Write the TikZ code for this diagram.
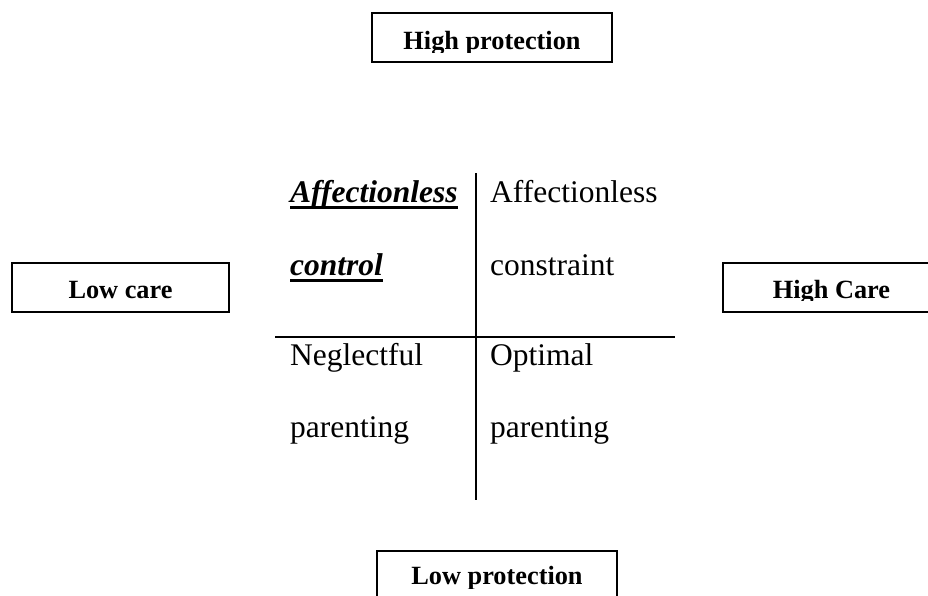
\documentclass[tikz,border=0pt]{standalone}
\usepackage{fontspec}
\setmainfont{Liberation Serif}
\begin{document}
\begin{tikzpicture}[x=1pt,y=-1pt,
  lbl/.style={font=\fontsize{26.3}{30}\selectfont\bfseries, inner sep=0pt, anchor=base},
  cell/.style={font=\fontsize{31.5}{36}\selectfont, inner sep=0pt, anchor=base west},
  cellbi/.style={font=\fontsize{31.5}{36}\selectfont\bfseries\itshape, inner sep=0pt, anchor=base west},
  boxline/.style={draw, line width=1.3pt, inner sep=0pt},
  axis/.style={line width=2pt},
  ul/.style={line width=3pt}]
\clip (0,0) rectangle (928,595);
\fill[white] (0,0) rectangle (928,595);
% boxes
\node[boxline, minimum width=240pt, minimum height=49pt] (hpbox) at (492,37.5) {};
\node[boxline, minimum width=217pt, minimum height=49pt] (lcbox) at (120.5,287.5) {};
\node[boxline, minimum width=217pt, minimum height=49pt] (hcbox) at (831.5,287.5) {};
\node[boxline, minimum width=240pt, minimum height=60pt] (lpbox) at (497,581) {};
% box texts (clipped like the original)
\begin{scope}
\clip (372,13) rectangle (612,52.5);
\node[lbl] (hp) at (492,49) {High protection};
\end{scope}
\begin{scope}
\clip (12,263) rectangle (229,301);
\node[lbl] (lc) at (120.5,298) {Low care};
\end{scope}
\begin{scope}
\clip (723,263) rectangle (940,300.5);
\node[lbl] (hc) at (831.5,298) {High Care};
\end{scope}
\begin{scope}
\clip (377,551) rectangle (617,588);
\node[lbl] (lp) at (497,584.5) {Low protection};
\end{scope}
% axes
\coordinate (vt) at (476,173);
\coordinate (vb) at (476,500);
\coordinate (hl) at (275,337);
\coordinate (hr) at (675,337);
\draw[axis] (vt) -- (vb);
\draw[axis] (hl) -- (hr);
% cells
\node[cellbi] (ac1) at (290,202) {Affectionless};
\node[cellbi] (ac2) at (290,275) {control};
\draw[ul] ([yshift=-5.7pt]ac1.base west) -- ([yshift=-5.7pt]ac1.base east);
\draw[ul] ([yshift=-5.7pt]ac2.base west) -- ([yshift=-5.7pt]ac2.base east);
\node[cell] (acr1) at (490,202) {Affectionless};
\node[cell] (acr2) at (490,275) {constraint};
\node[cell] (ng1) at (290,365) {Neglectful};
\node[cell] (ng2) at (290,437) {parenting};
\node[cell] (op1) at (490,365) {Optimal};
\node[cell] (op2) at (490,437) {parenting};
\end{tikzpicture}
\end{document}
